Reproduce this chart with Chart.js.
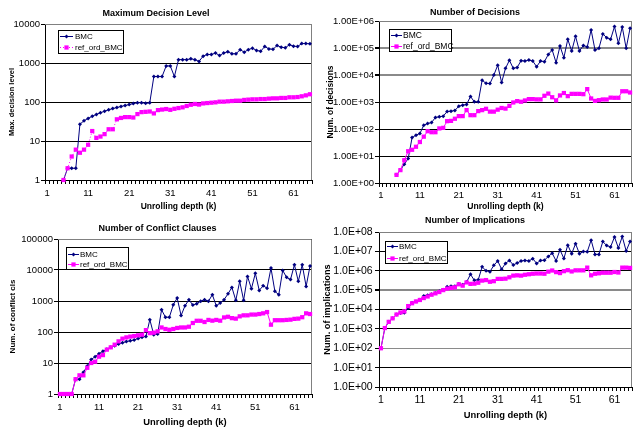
<!DOCTYPE html>
<html>
<head>
<meta charset="utf-8">
<script src="https://cdn.jsdelivr.net/npm/chart.js@4.4.1/dist/chart.umd.min.js"></script>
<style>
html,body{margin:0;padding:0;background:#fff;overflow:hidden;width:633px;height:429px;}
.cell{position:absolute;}
canvas{display:block;}
</style>
</head>
<body>
<div class="cell" style="left:0;top:0"><canvas id="c1" width="316" height="214"></canvas></div>
<div class="cell" style="left:316px;top:0"><canvas id="c2" width="320" height="214"></canvas></div>
<div class="cell" style="left:0;top:214px"><canvas id="c3" width="316" height="215"></canvas></div>
<div class="cell" style="left:316px;top:214px"><canvas id="c4" width="320" height="215"></canvas></div>
<script>
// ---------- DATA ----------
const depth = [1,2,3,4,5,6,7,8,9,10,11,12,13,14,15,16,17,18,19,20,21,22,23,24,25,26,27,28,29,30,31,32,33,34,35,36,37,38,39,40,41,42,43,44,45,46,47,48,49,50,51,52,53,54,55,56,57,58,59,60,61,62,63,64,65];
const xTickValues = [1, 11, 21, 31, 41, 51, 61];

const levelTicks = [1, 10, 100, 1000, 10000];
const levelTickLabels = ['1', '10', '100', '1000', '10000'];
const decisionTicks = [1, 10, 100, 1000, 10000, 100000, 1000000];
const decisionTickLabels = ['1.00E+00','1.00E+01','1.00E+02','1.00E+03','1.00E+04','1.00E+05','1.00E+06'];
const conflictTicks = [1, 10, 100, 1000, 10000, 100000];
const conflictTickLabels = ['1', '10', '100', '1000', '10000', '100000'];
const implTicks = [1, 10, 100, 1000, 10000, 100000, 1000000, 10000000, 100000000];
const implTickLabels = ['1.0E+00','1.0E+01','1.0E+02','1.0E+03','1.0E+04','1.0E+05','1.0E+06','1.0E+07','1.0E+08'];

const maxLevelBMC = [null,null,null,null,1,2,2,2,27,33,38,43,48,53,58,63,68,72,77,81,86,91,96,96,93,95,450,450,450,840,840,450,1220,1220,1220,1280,1220,1100,1500,1650,1650,1800,1550,1800,1950,1720,1720,2200,1900,2200,2400,2100,2000,2650,2300,2250,2800,2550,2450,2950,2700,2650,3150,3150,3100];
const maxLevelRef = [null,null,null,null,1,2,4,6,5,6,8,18,12,13,15,20,20,36,39,41,41,40,49,55,56,57,51,62,64,66,63,67,70,73,79,85,89,86,92,94,96,98,102,102,104,106,108,108,113,115,117,117,119,119,122,124,124,127,127,132,132,134,140,148,158];

const decisionsBMC = [null,null,null,null,2,3,5,8,48,59,68,138,159,174,267,282,299,445,458,485,700,765,810,1600,1017,1017,6400,4900,4800,9900,23000,5300,17600,35000,17600,19100,33900,32900,35800,32900,20300,32900,31100,58000,84000,28500,118000,43800,210000,77000,270000,77000,125000,109000,466000,84000,97000,331000,242000,210000,619000,149000,602000,97000,537000];
const decisionsRef = [null,null,null,null,2,3,7,15,17,22,33,52,83,76,76,105,110,195,200,240,300,300,500,325,325,460,500,560,440,440,520,600,570,720,960,1080,1020,1140,1280,1280,1250,1250,1700,2050,1500,1150,1750,2150,1650,2000,2000,2000,1950,3000,1350,1100,1170,1240,1240,1450,1430,1430,2500,2500,2250];

const conflictBMC = [1,1,1,1,3,3,5,8,13,16,20,24,28,32,36,41,45,49,52,55,62,68,72,250,82,86,520,300,300,750,1250,340,700,1100,740,820,980,1100,980,1600,700,860,1100,1700,2750,1050,4300,1060,6200,2500,7800,2200,3100,2600,11500,2050,1600,9700,5800,4900,14800,4300,14800,2950,13500];
const conflictRef = [1,1,1,1,3,4,4,7,10,11,16,18,27,32,39,50,61,67,71,74,78,82,115,92,95,105,140,125,118,125,135,140,140,148,195,230,230,210,245,232,245,232,295,310,280,270,320,345,345,365,365,380,400,440,172,240,240,240,245,250,265,270,300,400,380];

const implBMC = [100,1100,2300,3500,5500,6500,6800,12000,22000,26000,32000,50000,55000,62000,72000,88000,105000,150000,160000,160000,210000,190000,260000,650000,320000,340000,1600000,1000000,900000,1900000,3200000,1200000,2400000,3400000,2000000,2500000,3200000,3400000,3200000,4200000,2400000,3400000,3500000,5500000,8000000,3200000,12000000,4300000,21000000,7500000,25000000,7500000,10000000,9500000,38000000,7000000,7000000,32000000,20000000,17000000,55000000,15000000,58000000,10500000,32000000];
const implRef = [100,1100,2300,3500,5500,7000,8000,15000,21000,26000,31000,39000,47000,58000,68000,80000,100000,120000,130000,140000,200000,170000,250000,210000,215000,240000,310000,330000,270000,290000,380000,380000,390000,460000,560000,580000,560000,620000,660000,700000,720000,720000,700000,900000,1030000,850000,760000,950000,1070000,920000,1050000,1050000,1050000,1450000,580000,700000,740000,790000,790000,790000,860000,810000,1450000,1450000,1400000];

// ---------- STYLE / DRAWING ----------
const FONT = "'Liberation Sans', Arial, Helvetica, sans-serif";
const NAVY = '#000080';
const MAGENTA = '#FF00FF';

function drawMarker(ctx, style, x, y, r, color) {
  ctx.fillStyle = color;
  ctx.beginPath();
  if (style === 'rect') {
    const s = Math.SQRT1_2 * r;
    ctx.rect(x - s, y - s, 2 * s, 2 * s);
  } else {
    ctx.moveTo(x - r, y); ctx.lineTo(x, y - r); ctx.lineTo(x + r, y); ctx.lineTo(x, y + r); ctx.closePath();
  }
  ctx.fill();
}

const plotFrame = {
  id: 'plotFrame',
  beforeDatasetsDraw(chart) {
    const {ctx, chartArea: a} = chart;
    ctx.save();
    ctx.strokeStyle = '#808080';
    ctx.lineWidth = 1;
    ctx.beginPath();
    ctx.moveTo(a.left, Math.floor(a.top) + 0.5);
    ctx.lineTo(Math.floor(a.right) - 0.5, Math.floor(a.top) + 0.5);
    ctx.lineTo(Math.floor(a.right) - 0.5, a.bottom);
    ctx.stroke();
    ctx.restore();
  }
};

const boxLegend = {
  id: 'boxLegend',
  afterDatasetsDraw(chart, args, o) {
    if (!o || !o.w) return;
    const {ctx, chartArea: a} = chart;
    const x = Math.round(a.left + o.dx), y = Math.round(a.top + o.dy);
    ctx.save();
    ctx.fillStyle = '#fff';
    ctx.fillRect(x, y, o.w, o.h);
    ctx.strokeStyle = '#000';
    ctx.lineWidth = 1;
    ctx.strokeRect(x + 0.5, y + 0.5, o.w, o.h);
    ctx.font = o.size + 'px ' + FONT;
    ctx.textBaseline = 'middle';
    ctx.textAlign = 'left';
    chart.data.datasets.forEach((ds, k) => {
      const cy = Math.round(y + o.rows[k]) + 0.5;
      ctx.strokeStyle = ds.borderColor;
      ctx.lineWidth = 1;
      ctx.setLineDash(ds.borderDash || []);
      ctx.beginPath();
      ctx.moveTo(x + o.lineFrom, cy);
      ctx.lineTo(x + o.lineTo, cy);
      ctx.stroke();
      ctx.setLineDash([]);
      drawMarker(ctx, ds.pointStyle, x + (o.lineFrom + o.lineTo) / 2, cy, ds.pointRadius, ds.pointBackgroundColor);
      ctx.fillStyle = '#000';
      ctx.fillText(ds.label, x + o.textX, cy);
    });
    ctx.restore();
  }
};

function buildChart(id, c) {
  const yMax = c.ticks[c.ticks.length - 1];
  new Chart(document.getElementById(id), {
    type: 'line',
    data: {
      labels: depth,
      datasets: [
        { label: 'BMC', data: c.bmc, borderColor: NAVY, backgroundColor: NAVY,
          pointBackgroundColor: NAVY, pointBorderColor: NAVY, pointBorderWidth: 0,
          pointStyle: 'rectRot', pointRadius: 2, borderWidth: 1, tension: 0, order: 1, clip: false },
        { label: 'ref_ord_BMC', data: c.ref, borderColor: MAGENTA, backgroundColor: MAGENTA,
          pointBackgroundColor: MAGENTA, pointBorderColor: MAGENTA, pointBorderWidth: 0,
          pointStyle: 'rect', pointRadius: 3, borderWidth: 1, borderDash: c.refDash || [],
          tension: 0, order: 0, clip: false }
      ]
    },
    options: {
      responsive: false,
      animation: false,
      events: [],
      layout: { padding: { left: 0, right: c.padRight, top: 0, bottom: 0 } },
      plugins: {
        legend: { display: false },
        tooltip: { enabled: false },
        title: { display: true, text: c.title, color: '#000',
                 font: { family: FONT, size: 9, weight: 'bold', lineHeight: 1.2 },
                 padding: { top: c.titlePad[0], bottom: c.titlePad[1] } },
        boxLegend: c.legend
      },
      scales: {
        x: {
          type: 'category', offset: true,
          afterFit: s => { s.height = c.xHeight; },
          ticks: {
            autoSkip: false, maxRotation: 0, minRotation: 0,
            color: '#000', padding: c.xTickPad,
            font: { family: FONT, size: c.tickSize, lineHeight: 1.2 },
            callback: function (v) { const l = this.getLabelForValue(v); return xTickValues.includes(l) ? String(l) : ''; }
          },
          grid: { offset: true, drawOnChartArea: false, drawTicks: true, tickLength: 4, color: '#000', tickColor: '#000', lineWidth: 1 },
          border: { display: true, color: '#000', width: 1 },
          title: { display: true, text: 'Unrolling depth (k)', color: '#000',
                   font: { family: FONT, size: c.xTitleSize, weight: 'bold', lineHeight: 1.2 },
                   padding: { top: 0, bottom: c.xTitlePad } }
        },
        y: {
          type: 'logarithmic', min: c.ticks[0], max: yMax,
          afterBuildTicks: s => { s.ticks = c.ticks.map(v => ({ value: v })); },
          afterFit: s => { s.width = c.yWidth; },
          ticks: {
            autoSkip: false, color: '#000', padding: c.yTickPad,
            font: { family: FONT, size: c.tickSize, lineHeight: 1.2 },
            callback: (v, i) => c.tickLabels[i]
          },
          grid: {
            drawTicks: true, tickLength: 4, tickColor: '#000',
            color: ctx => (c.gridGray && ctx.tick && c.gridGray.includes(ctx.tick.value)) ? '#8a8a8a' : '#000',
            lineWidth: ctx => (c.gridWide && ctx.tick && c.gridWide.includes(ctx.tick.value)) ? 2 : 1
          },
          border: { display: true, color: '#000', width: 1 },
          title: { display: true, text: c.yTitle, color: '#000',
                   font: { family: FONT, size: c.yTitleSize, weight: 'bold', lineHeight: 1.2 },
                   padding: { top: c.yTitlePad, bottom: 0 } }
        }
      }
    },
    plugins: [plotFrame, boxLegend]
  });
}

buildChart('c1', {
  title: 'Maximum Decision Level', titlePad: [8.6, 4.6],
  yTitle: 'Max. decision level', yTitleSize: 7.5, yTitlePad: 7.5,
  xTitleSize: 8.5, xTitlePad: 1.9,
  ticks: levelTicks, tickLabels: levelTickLabels, tickSize: 9.5,
  bmc: maxLevelBMC, ref: maxLevelRef, refDash: [1, 2],
  yWidth: 45, xHeight: 34, padRight: 4, xTickPad: 3.5, yTickPad: 1,
  gridGray: [10000],
  legend: { dx: 13, dy: 6, w: 65, h: 23, rows: [5.5, 16.5], lineFrom: 2, lineTo: 15, textX: 17, size: 8 }
});

buildChart('c2', {
  title: 'Number of Decisions', titlePad: [7.6, 2.6],
  yTitle: 'Num. of decisions', yTitleSize: 8.5, yTitlePad: 9.5,
  xTitleSize: 8.6, xTitlePad: 2.1,
  ticks: decisionTicks, tickLabels: decisionTickLabels, tickSize: 9.5,
  bmc: decisionsBMC, ref: decisionsRef,
  yWidth: 63, xHeight: 31, padRight: 2, xTickPad: 2.3, yTickPad: 1,
  gridGray: [1000000, 100000, 10000], gridWide: [100000, 10000],
  legend: { dx: 10, dy: 8, w: 62, h: 22, rows: [6, 17], lineFrom: 2, lineTo: 13, textX: 14, size: 8.5 }
});

buildChart('c3', {
  title: 'Number of Conflict Clauses', titlePad: [9.6, 4.6],
  yTitle: 'Num. of conflict cls', yTitleSize: 8, yTitlePad: 7.5,
  xTitleSize: 9.4, xTitlePad: 1,
  ticks: conflictTicks, tickLabels: conflictTickLabels, tickSize: 9.5,
  bmc: conflictBMC, ref: conflictRef,
  yWidth: 58, xHeight: 35, padRight: 1, xTickPad: 3.6, yTickPad: 1,
  legend: { dx: 8, dy: 7.7, w: 62, h: 22, rows: [6.5, 17], lineFrom: 2, lineTo: 13, textX: 14, size: 8 }
});

buildChart('c4', {
  title: 'Number of Implications', titlePad: [1.3, 5.9],
  yTitle: 'Num. of implications', yTitleSize: 9.2, yTitlePad: 6,
  xTitleSize: 9.4, xTitlePad: 7.6,
  ticks: implTicks, tickLabels: implTickLabels, tickSize: 10.5,
  bmc: implBMC, ref: implRef,
  yWidth: 63, xHeight: 42, padRight: 2, xTickPad: 3, yTickPad: 2.3,
  gridGray: [100000000, 100000, 100], gridWide: [100000],
  legend: { dx: 6, dy: 8.7, w: 62, h: 22, rows: [5, 16.5], lineFrom: 2, lineTo: 13, textX: 14, size: 8 }
});
</script>
</body>
</html>
